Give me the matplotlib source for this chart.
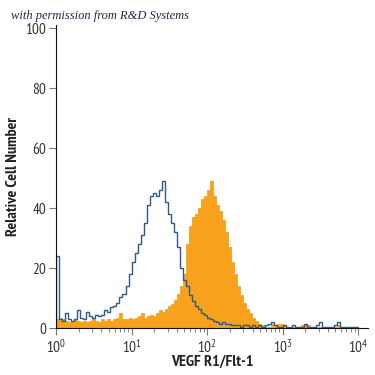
import numpy as np
import matplotlib
matplotlib.use('Agg')
import matplotlib.pyplot as plt

# log10 bins, 25 per decade, from 10^0 to 10^4
n_bins = 100
edges = np.logspace(0, 4, n_bins + 1)

# isotype control (blue outline)
isotype = [24, 3, 2.5, 5, 3, 2.5, 3, 6, 3.5, 3,
           5.5, 4, 3.5, 4.5, 4, 4.5, 6, 5.5, 7, 7.5,
           8.5, 10.5, 11.5, 14, 18, 22, 25, 28, 31, 35,
           41, 44, 45, 44, 46, 49, 42, 38, 35, 32,
           27, 20, 16, 14, 11, 9, 7.5, 6.5, 5, 4.5,
           3.5, 3, 2.5, 2, 1.5, 2, 1.5, 1.5, 1, 1,
           1, 0.5, 1, 1, 0.5, 1, 0.5, 1, 0.5, 1,
           1.5, 2, 1, 0.5, 0.5, 1, 0.5, 0.5, 1, 0.5,
           0.5, 0.5, 1.5, 0.5, 0.5, 0.5, 1, 2, 0.5, 0.5,
           0.5, 0.5, 1, 2, 0.5, 0.5, 0.5, 0.5, 0.5, 0.5]

# VEGF R1/Flt-1 stained (orange filled)
stained = [3, 3.5, 3, 2.5, 2, 2.5, 3, 2.5, 2, 2.5,
           2, 2.5, 3, 2.5, 2, 3, 2.5, 3, 2.5, 3,
           3.5, 5, 3, 3, 3.5, 3, 3.5, 4, 5, 3.5,
           4, 4.5, 4, 5, 6, 5.5, 6.5, 7.5, 8, 9.5,
           11.5, 14, 18, 28, 34, 37, 38, 40, 43, 44,
           46, 49, 44, 41, 39, 36, 32, 27, 22, 18,
           14, 11, 8.5, 6.5, 5, 3.5, 2.5, 1.5, 1, 0.5,
           0.5, 1.5, 1, 1.5, 1.5, 1, 0.5, 0.5, 0.5, 0.5,
           0.5, 1, 1.5, 1, 0.5, 0.3, 0.3, 0.5, 0.3, 0.3,
           0.3, 0.3, 0.5, 1, 0.3, 0.3, 0.3, 0.3, 0.3, 0.3]

yticks = [0, 20, 40, 60, 80, 100]
xticks = [1, 10, 100, 1000, 10000]
xticklabels = ['$10^{0}$', '$10^{1}$', '$10^{2}$', '$10^{3}$', '$10^{4}$']

narrow = ['PT Sans Narrow', 'DejaVu Sans']
plt.rcParams['font.family'] = narrow
plt.rcParams['mathtext.fontset'] = 'custom'
plt.rcParams['mathtext.rm'] = 'PT Sans Narrow'
plt.rcParams['mathtext.it'] = 'PT Sans Narrow'

fig = plt.figure(figsize=(3.75, 3.75), dpi=100)
ax = fig.add_axes([56 / 375, 47 / 375, 312 / 375, 303 / 375])

ax.stairs(stained, edges, fill=True, facecolor='#f8a11c', edgecolor='#f8a11c', lw=0.6)
ax.stairs(isotype, edges, color='#2d5b86', lw=1.0)

ax.set_xscale('log')
ax.set_xlim(1, 10 ** 4.13)
ax.set_ylim(0, 101)

ax.spines['top'].set_visible(False)
ax.spines['right'].set_visible(False)
ax.spines['left'].set_color('#111111')
ax.spines['bottom'].set_color('#111111')

ax.set_yticks(yticks)
ax.set_yticklabels([str(v) for v in yticks])
ax.set_xticks(xticks)
ax.set_xticklabels(xticklabels)
ax.tick_params(axis='both', which='major', length=5, width=0.8, color='#777777',
               labelsize=11, labelcolor='#333333', pad=2)
ax.tick_params(axis='x', which='minor', length=3, width=0.6, color='#777777')

ax.set_ylabel('Relative Cell Number', fontsize=11.5, color='#222222',
              fontweight='bold', va='center')
ax.yaxis.set_label_coords(-0.138, 0.5)
ax.set_xlabel('VEGF R1/Flt-1', fontsize=11.5, color='#222222',
              fontweight='bold', va='center')
ax.xaxis.set_label_coords(0.5, -0.112)

fig.text(0.03, 0.957, 'with permission from R&D Systems', fontsize=9,
         family='Liberation Serif', style='italic', color='#1b2a48', va='center')

fig.savefig('out.png', dpi=100)
